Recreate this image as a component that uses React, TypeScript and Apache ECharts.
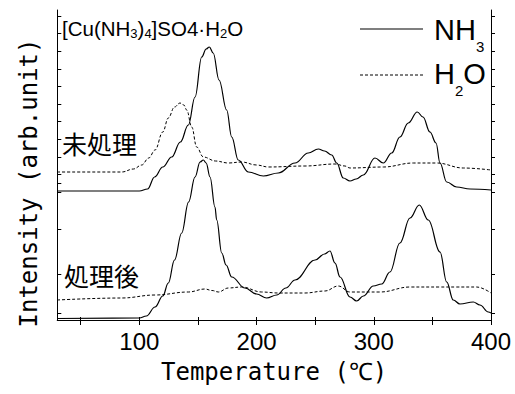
import React, { useEffect, useRef } from "react";
import * as echarts from "echarts";

// Temperature (°C) vs. intensity (arb. unit, offset traces)
const nh3Untreated: [number, number][] = [
  [30, 129], [100, 129], [107, 131], [113, 143], [120, 153], [127.6, 163], [135, 178], [141.8, 195],
  [147.5, 223], [153.2, 263], [157, 271], [159.7, 273], [163, 267], [168, 240], [174.5, 210], [178.8, 183],
  [184.4, 160], [193, 148], [205.8, 144], [218.5, 147], [232.8, 157], [244.1, 167], [252.7, 171], [258, 169],
  [264.1, 165], [268.4, 157], [274, 142], [279.7, 139], [285, 141], [291.1, 145], [301, 162], [308.1, 157],
  [315.3, 167], [322.3, 183], [329.4, 197], [337.1, 208], [342, 203], [347.9, 188], [353.1, 177], [356.5, 157],
  [362.2, 138], [370.7, 133], [382.1, 131], [400, 130],
];
const h2oUntreated: [number, number][] = [
  [30, 148], [85, 148], [95, 151], [102, 155], [108, 162], [113.4, 170], [120, 188], [124.7, 202], [130, 213],
  [134.7, 217], [138, 215], [140.4, 210], [144.7, 193], [148.9, 173], [154.6, 163], [165, 159], [175.9, 157],
  [187.3, 158], [200, 155], [210, 153], [241.3, 154], [266.9, 156], [275.4, 154], [279.7, 152], [308.1, 153],
  [333.7, 157], [353.7, 157], [376.4, 152], [400, 150],
];
const nh3Treated: [number, number][] = [
  [30, 1.5], [100, 2], [106, 4], [113.4, 13], [120, 24], [124.7, 37], [130, 60], [136.1, 87], [142, 118],
  [147.5, 143], [151.8, 158], [154.6, 160], [157, 157], [160.3, 143], [164.5, 113], [166, 100], [170.3, 67],
  [174, 55], [178.8, 43], [190.1, 32], [200, 26], [208.6, 22], [217.2, 25], [225, 32], [232.8, 40], [249.9, 60],
  [258, 66], [262.6, 69], [266.9, 57], [271.2, 43], [279.7, 23], [285.4, 19], [291.1, 24], [299.6, 34],
  [306.8, 36], [313.8, 48], [322.3, 77], [330.9, 102], [338.8, 115], [346.5, 100], [356.5, 68], [362.2, 38],
  [367.8, 20], [373.5, 16], [384.9, 18], [390.6, 15], [397.7, 8], [400, 7],
];
const h2oTreated: [number, number][] = [
  [30, 20], [85, 22], [113.4, 25], [141.8, 28], [156, 31], [162, 29.5], [167.4, 28], [175.9, 32], [187.3, 33],
  [204.4, 28], [218.5, 27], [241.3, 27], [258.4, 29], [269.7, 34], [279.7, 28], [305.3, 28], [330.9, 33],
  [356.5, 33], [370.7, 33], [387.8, 33], [400, 27],
];

const xTicks = [50, 100, 150, 200, 250, 300, 350, 400];
const xLabels = [100, 200, 300, 400];
const yTicks = [7, 46, 91, 128, 137, 145.6, 163.2, 180.8, 198.4, 216, 233.6, 251.2, 268.8, 286.4, 304];

const LAT = "'Liberation Sans', Arial, sans-serif";
const MONO = "'DejaVu Sans Mono', monospace";
const CJK = "'Noto Sans CJK JP', sans-serif";

export default function App() {
  const ref = useRef<HTMLDivElement>(null);
  useEffect(() => {
    document.body.style.margin = "0";
    const chart = echarts.init(ref.current!, null, { renderer: "svg" });
    const solid = { color: "#000", width: 1.2, type: "solid" as const };
    const dashed = { color: "#000", width: 1, type: [3, 2] as any };
    const mkSeries = (name: string, data: [number, number][], ls: any) => ({
      type: "line",
      name,
      data,
      showSymbol: false,
      symbol: "none",
      smooth: 0.4,
      smoothMonotone: "x",
      lineStyle: ls,
      itemStyle: { color: "#000" },
      xAxisIndex: 0,
      yAxisIndex: 0,
    });
    const axisLine = { show: true, lineStyle: { color: "#000", width: 1 } };
    const legRich = {
      a: { fontSize: 29, lineHeight: 30, fontFamily: LAT, verticalAlign: "top", fill: "#000" },
      s: { fontSize: 15, lineHeight: 15, fontFamily: LAT, verticalAlign: "top", padding: [23.5, 0, 0, 0], fill: "#000" },
    };
    chart.setOption({
      animation: false,
      backgroundColor: "#fff",
      grid: { left: 57.3, right: 24, top: 10, bottom: 74 },
      xAxis: [
        {
          type: "value",
          min: 30,
          max: 400,
          position: "bottom",
          axisLine,
          splitLine: { show: false },
          axisTick: { show: true, inside: false, length: 5, customValues: xTicks, lineStyle: { color: "#000" } },
          axisLabel: { customValues: xLabels, color: "#000", fontSize: 24, fontFamily: LAT, margin: 9 },
          name: "Temperature (℃)",
          nameLocation: "middle",
          nameGap: 40,
          nameTextStyle: { color: "#000", fontSize: 24, fontFamily: MONO },
        },
        {
          type: "value",
          min: 30,
          max: 400,
          position: "top",
          axisLine,
          splitLine: { show: false },
          axisTick: { show: true, inside: false, length: 3, customValues: xTicks, lineStyle: { color: "#000" } },
          axisLabel: { show: false },
        },
      ],
      yAxis: [
        {
          type: "value",
          min: 0,
          max: 310,
          position: "left",
          axisLine,
          splitLine: { show: false },
          axisTick: { show: true, inside: true, length: 4, customValues: yTicks, lineStyle: { color: "#000" } },
          axisLabel: { show: false },
        },
        {
          type: "value",
          min: 0,
          max: 310,
          position: "right",
          axisLine,
          splitLine: { show: false },
          axisTick: { show: true, inside: false, length: 4, customValues: yTicks, lineStyle: { color: "#000" } },
          axisLabel: { show: false },
        },
      ],
      graphic: [
        {
          type: "text",
          x: 29,
          y: 183,
          rotation: Math.PI / 2,
          style: {
            text: "Intensity (arb.unit)",
            font: `24px ${MONO}`,
            fill: "#000",
            align: "center",
            verticalAlign: "middle",
          },
        },
        {
          type: "text",
          x: 62,
          y: 18.3,
          style: {
            text: "{m|[Cu(NH}{s|3}{m|)}{s|4}{m|]SO4·H}{s|2}{m|O}",
            verticalAlign: "top",
            fill: "#000",
            rich: {
              m: { fontSize: 20.5, lineHeight: 20, fontFamily: LAT, verticalAlign: "top", fill: "#000" },
              s: { fontSize: 13, lineHeight: 13, fontFamily: LAT, verticalAlign: "top", padding: [8.5, 0, 0, 0], fill: "#000" },
            },
          },
        },
        {
          type: "text",
          x: 62,
          y: 143,
          style: { text: "未処理", font: `25px ${CJK}`, fill: "#000", verticalAlign: "middle" },
        },
        {
          type: "text",
          x: 64,
          y: 275,
          style: { text: "処理後", font: `25px ${CJK}`, fill: "#000", verticalAlign: "middle" },
        },
        // legend
        {
          type: "line",
          shape: { x1: 360, y1: 29, x2: 423, y2: 29 },
          style: { stroke: "#000", lineWidth: 1.2 },
        },
        {
          type: "text",
          x: 434,
          y: 15,
          style: { text: "{a|NH}{s|3}", verticalAlign: "top", fill: "#000", rich: legRich },
        },
        {
          type: "line",
          shape: { x1: 360, y1: 75, x2: 423, y2: 75 },
          style: { stroke: "#000", lineWidth: 1, lineDash: [3, 2] },
        },
        {
          type: "text",
          x: 434,
          y: 59.5,
          style: { text: "{a|H}{s|2}{a|O}", verticalAlign: "top", fill: "#000", rich: legRich },
        },
      ],
      series: [
        mkSeries("NH3", nh3Untreated, solid),
        mkSeries("H2O", h2oUntreated, dashed),
        mkSeries("NH3", nh3Treated, solid),
        mkSeries("H2O", h2oTreated, dashed),
      ],
    });
    return () => chart.dispose();
  }, []);
  return <div ref={ref} style={{ position: "absolute", left: 0, top: 0, width: 515, height: 394 }} />;
}
